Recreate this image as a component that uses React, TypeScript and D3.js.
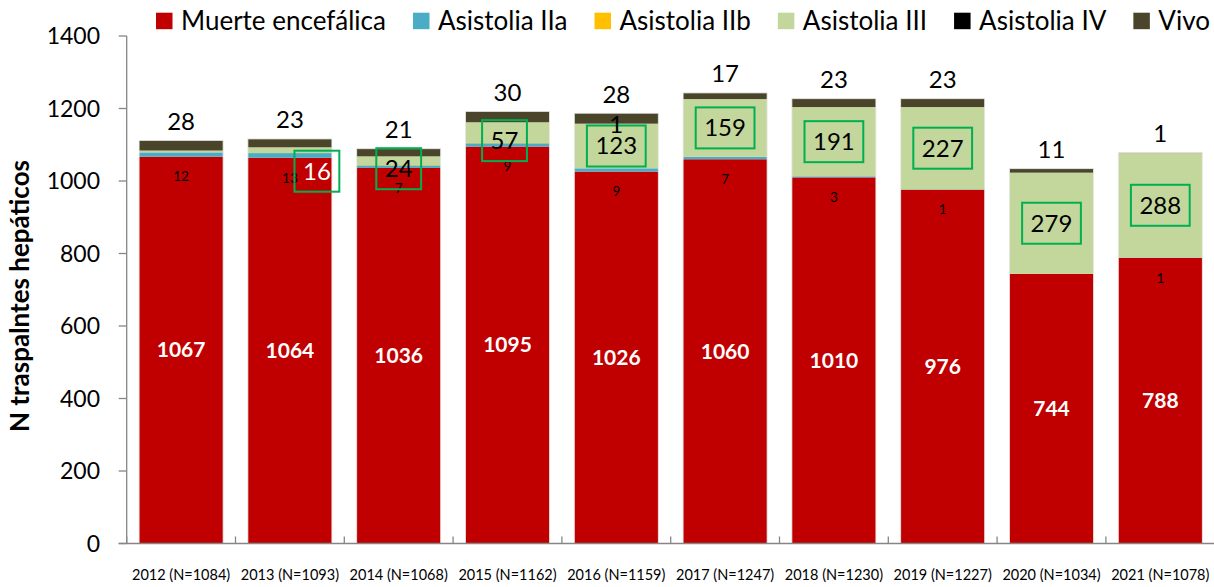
import { useRef, useEffect } from "react";
import * as d3 from "d3";

const WIDTH = 1214;
const HEIGHT = 587;
const FONT = "Lato, 'Open Sans', sans-serif";

const years = [
  "2012 (N=1084)", "2013 (N=1093)", "2014 (N=1068)", "2015 (N=1162)", "2016 (N=1159)",
  "2017 (N=1247)", "2018 (N=1230)", "2019 (N=1227)", "2020 (N=1034)", "2021 (N=1078)",
];
const muerte = [1067, 1064, 1036, 1095, 1026, 1060, 1010, 976, 744, 788];
const asistIIa = [12, 13, 7, 9, 9, 7, 3, 1, 0, 1];
const asistIIb = [0, 0, 1, 1, 0, 0, 0, 0, 0, 0];
const asistIII = [5, 16, 24, 57, 123, 159, 191, 227, 279, 288];
const asistIV = [0, 0, 0, 0, 1, 0, 0, 0, 0, 0];
const vivo = [28, 23, 21, 30, 28, 17, 23, 23, 11, 1];
const yTicks = [0, 200, 400, 600, 800, 1000, 1200, 1400];

const series = [
  { key: "muerte", label: "Muerte encefálica", color: "#C00000", values: muerte },
  { key: "iia", label: "Asistolia IIa", color: "#4BACC6", values: asistIIa },
  { key: "iib", label: "Asistolia IIb", color: "#FFC000", values: asistIIb },
  { key: "iii", label: "Asistolia III", color: "#C3D69B", values: asistIII },
  { key: "iv", label: "Asistolia IV", color: "#000000", values: asistIV },
  { key: "vivo", label: "Vivo", color: "#4A452A", values: vivo },
];

// hand-moved boxed labels (as in the original sheet)
const boxNudge: Record<number, { dx: number; dy: number; fill: string }> = {
  1: { dx: 27, dy: 21, fill: "#ffffff" },
  2: { dx: 0, dy: 8, fill: "#000000" },
  3: { dx: -3, dy: 8, fill: "#000000" },
};

export default function App() {
  const svgRef = useRef<SVGSVGElement | null>(null);

  useEffect(() => {
    document.body.style.margin = "0";
    const svg = d3.select(svgRef.current);
    svg.selectAll("*").remove();

    const x = d3.scaleBand<string>().domain(years).range([126.7, 1214.7])
      .paddingInner(0.228).paddingOuter(0.114);
    const y = d3.scaleLinear().domain([0, 1400]).range([543.5, 36]);

    const table = years.map((yr, i) => {
      const row: any = { year: yr };
      series.forEach((s) => (row[s.key] = s.values[i]));
      return row;
    });
    const stacked = d3.stack().keys(series.map((s) => s.key))(table);

    // bars
    stacked.forEach((layer, li) => {
      svg.append("g")
        .selectAll("rect")
        .data(layer)
        .join("rect")
        .attr("x", (d: any) => x(d.data.year)!)
        .attr("width", x.bandwidth())
        .attr("y", (d) => y(d[1]))
        .attr("height", (d) => Math.max(0, y(d[0]) - y(d[1])))
        .attr("fill", series[li].color);
    });
    // thin light outline round each bar
    svg.append("g")
      .selectAll("rect")
      .data(table)
      .join("rect")
      .attr("x", (d) => x(d.year)!)
      .attr("width", x.bandwidth())
      .attr("y", (d, i) => y(stacked[stacked.length - 1][i][1]))
      .attr("height", (d, i) => y(0) - y(stacked[stacked.length - 1][i][1]))
      .attr("fill", "none")
      .attr("stroke", "#e8e8e8")
      .attr("stroke-width", 0.8);

    // axes
    const axisColor = "#868686";
    const x0 = x.range()[0];
    svg.append("line").attr("x1", x0).attr("x2", x0).attr("y1", y(0)).attr("y2", y(1400))
      .attr("stroke", axisColor).attr("stroke-width", 1.3);
    svg.append("line").attr("x1", x0 - 8).attr("x2", WIDTH).attr("y1", y(0)).attr("y2", y(0))
      .attr("stroke", axisColor).attr("stroke-width", 1.3);
    svg.append("g").selectAll("line").data(yTicks).join("line")
      .attr("x1", x0 - 8).attr("x2", x0).attr("y1", (d) => y(d)).attr("y2", (d) => y(d))
      .attr("stroke", axisColor).attr("stroke-width", 1.3);
    svg.append("g").selectAll("text").data(yTicks).join("text")
      .attr("x", 100).attr("y", (d) => y(d)).attr("dy", "0.35em")
      .attr("text-anchor", "end").style("font-family", FONT).style("font-size", "23px")
      .attr("fill", "#000").text((d) => d);
    const step = x.step();
    const bounds = d3.range(years.length + 1).map((i) => x0 + i * step);
    svg.append("g").selectAll("line").data(bounds).join("line")
      .attr("x1", (d) => d).attr("x2", (d) => d).attr("y1", y(0)).attr("y2", y(0) - 7)
      .attr("stroke", axisColor).attr("stroke-width", 1.3);
    svg.append("g").selectAll("text").data(years).join("text")
      .attr("x", (d) => x(d)! + x.bandwidth() / 2).attr("y", 580)
      .attr("text-anchor", "middle").style("font-family", FONT).style("font-size", "14.5px")
      .attr("fill", "#000").text((d) => d);

    svg.append("text")
      .attr("transform", `translate(29,296) rotate(-90)`)
      .attr("text-anchor", "middle").style("font-family", FONT).style("font-size", "26px")
      .style("font-weight", "bold").attr("fill", "#000")
      .text("N traspalntes hepáticos");

    const cx = (i: number) => x(years[i])! + x.bandwidth() / 2;

    // Muerte encefálica labels
    svg.append("g").selectAll("text").data(muerte).join("text")
      .attr("x", (d, i) => cx(i)).attr("y", (d) => y(d / 2)).attr("dy", "0.35em")
      .attr("text-anchor", "middle").style("font-family", FONT).style("font-size", "21px")
      .style("font-weight", "bold").attr("fill", "#fff").text((d) => d);

    // Asistolia IIa labels (small, below the red top)
    svg.append("g").selectAll("text")
      .data(asistIIa.map((v, i) => ({ v, i })).filter((d) => d.v > 0)).join("text")
      .attr("x", (d) => cx(d.i)).attr("y", (d) => y(muerte[d.i]) + 20).attr("dy", "0.35em")
      .attr("text-anchor", "middle").style("font-family", FONT).style("font-size", "13.5px")
      .attr("fill", "#000").text((d) => d.v);

    // Asistolia III boxed labels
    const iiiLayer = stacked[3];
    const boxed = asistIII.map((v, i) => ({ v, i })).filter((d) => d.i > 0);
    boxed.forEach(({ v, i }) => {
      const nudge = boxNudge[i] || { dx: 0, dy: 0, fill: "#000000" };
      const lx = cx(i) + nudge.dx;
      const ly = y((iiiLayer[i][0] + iiiLayer[i][1]) / 2) + nudge.dy;
      const g = svg.append("g");
      const rect = g.append("rect").attr("fill", "none").attr("stroke", "#00B050").attr("stroke-width", 2);
      const t = g.append("text").attr("x", lx).attr("y", ly).attr("dy", "0.35em")
        .attr("text-anchor", "middle").style("font-family", FONT).style("font-size", "24px")
        .attr("fill", nudge.fill).text(v);
      const w = (t.node() as SVGTextElement).getComputedTextLength() + 17;
      rect.attr("x", lx - w / 2).attr("y", ly - 20.5).attr("width", w).attr("height", 41);
    });

    // Asistolia IV label
    const ivLayer = stacked[4];
    svg.append("g").selectAll("text")
      .data(asistIV.map((v, i) => ({ v, i })).filter((d) => d.v > 0)).join("text")
      .attr("x", (d) => cx(d.i)).attr("y", (d) => y((ivLayer[d.i][0] + ivLayer[d.i][1]) / 2) + 1)
      .attr("dy", "0.35em").attr("text-anchor", "middle").style("font-family", FONT)
      .style("font-size", "24px").attr("fill", "#000").text((d) => d.v);

    // Vivo labels above bars
    const top = stacked[5];
    svg.append("g").selectAll("text").data(vivo).join("text")
      .attr("x", (d, i) => cx(i)).attr("y", (d, i) => y(top[i][1]) - 19).attr("dy", "0.35em")
      .attr("text-anchor", "middle").style("font-family", FONT).style("font-size", "24px")
      .attr("fill", "#000").text((d) => d);

    // legend
    const leg = svg.append("g");
    let cursor = 0;
    const items: { g: any; w: number }[] = [];
    series.forEach((s) => {
      const g = leg.append("g");
      g.append("rect").attr("x", 0).attr("y", 12.7).attr("width", 16.5).attr("height", 16.5).attr("fill", s.color);
      const t = g.append("text").attr("x", 25).attr("y", 29.8)
        .style("font-family", FONT).style("font-size", "26px").attr("fill", "#000").text(s.label);
      const w = 25 + (t.node() as SVGTextElement).getComputedTextLength();
      items.push({ g, w });
    });
    const totalText = d3.sum(items, (d) => d.w);
    const gap = (1210 - 156 - totalText) / (items.length - 1);
    items.forEach((it) => {
      it.g.attr("transform", `translate(${156 + cursor},0)`);
      cursor += it.w + gap;
    });
  }, []);

  return <svg ref={svgRef} width={WIDTH} height={HEIGHT} style={{ display: "block", background: "#fff" }} />;
}
